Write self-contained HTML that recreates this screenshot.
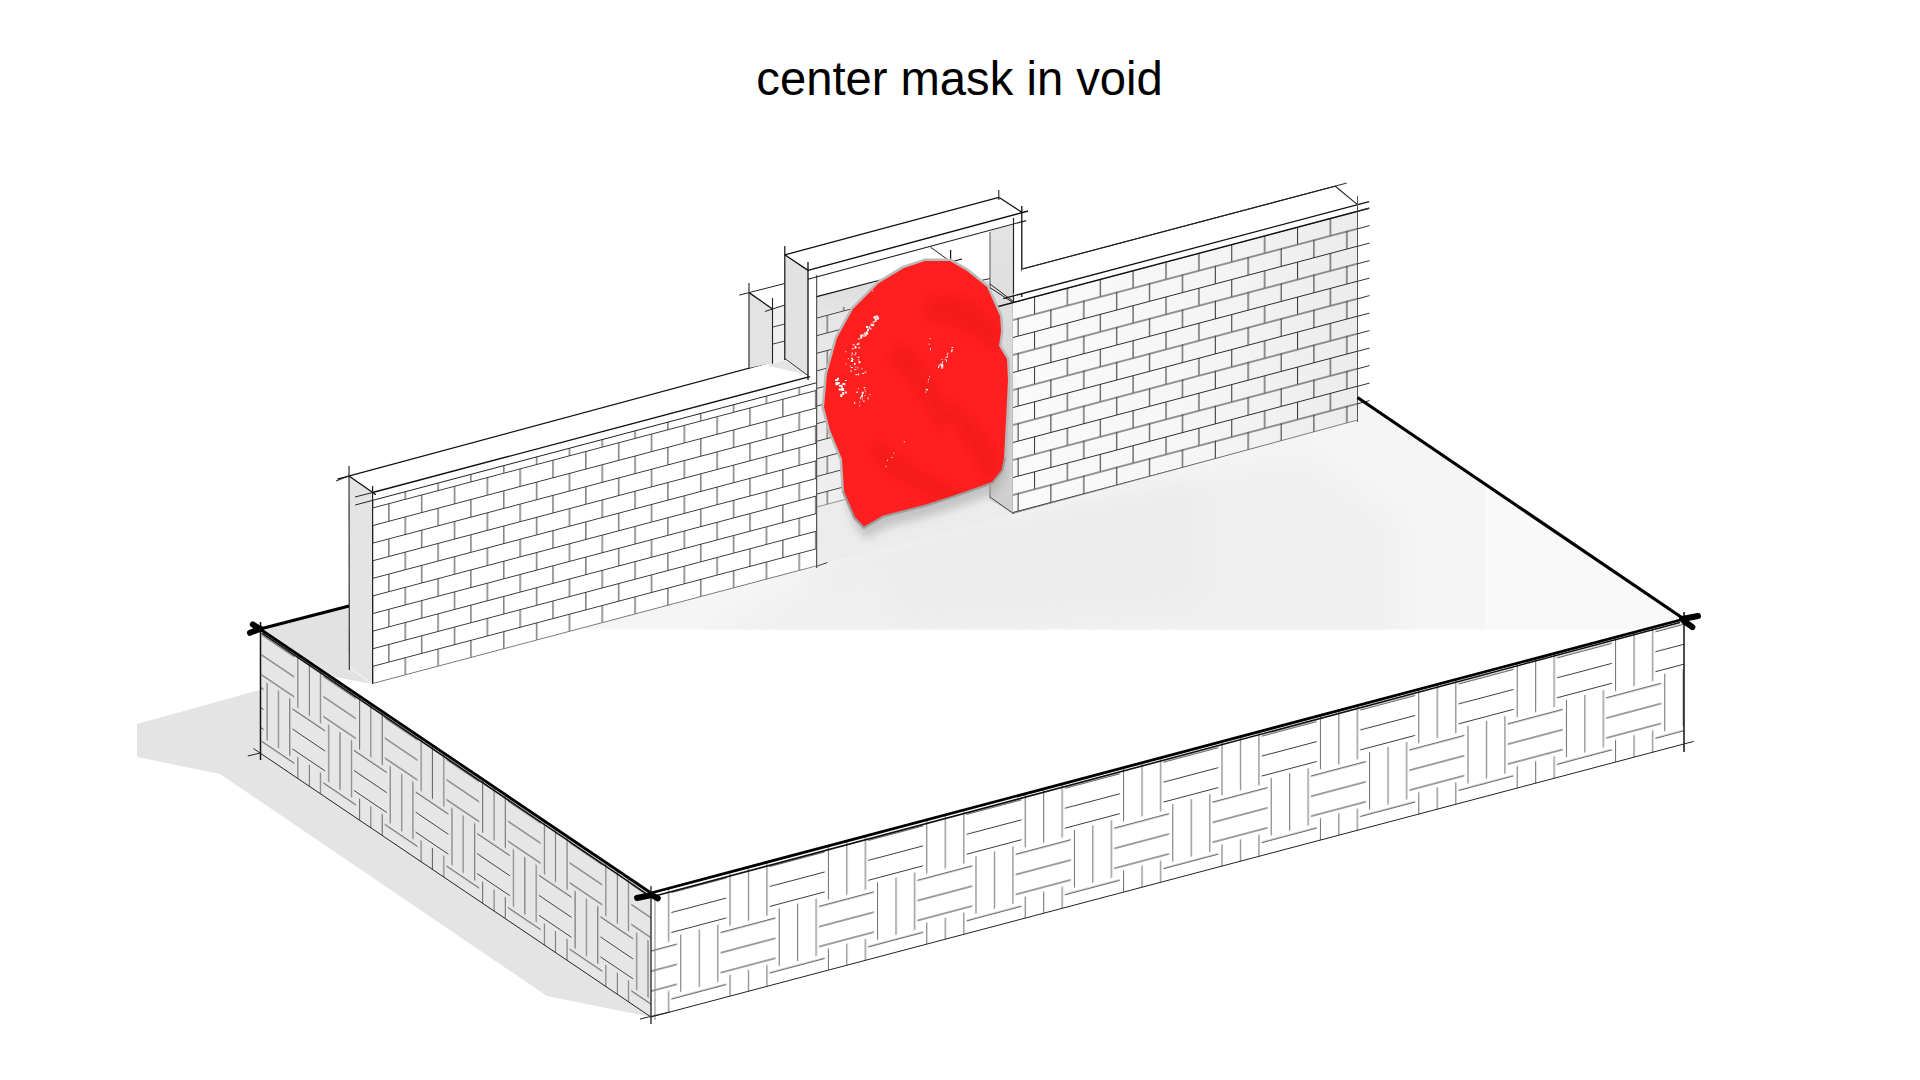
<!DOCTYPE html>
<html><head><meta charset="utf-8"><style>
html,body{margin:0;padding:0;background:#fff;width:1920px;height:1080px;overflow:hidden}
svg{position:absolute;left:0;top:0;display:block}
</style></head><body>
<svg width="1920" height="1080" viewBox="0 0 1920 1080">
<defs><filter id="fb" x="-30%" y="-30%" width="160%" height="160%"><feGaussianBlur stdDeviation="14"/></filter><clipPath id="cfl"><polygon points="585,629.5 585,626 816.3,565.9 990,497 1013,513.3 1357.5,420 1358,398 1684,619 1644,629.5"/></clipPath><pattern id="wr" patternUnits="userSpaceOnUse" width="98.4" height="106.5" patternTransform="translate(1073.9,830.3) skewY(-14.8422)"><line x1="0.50" y1="0.00" x2="0.50" y2="57.50" stroke="#6c6c6c" stroke-width="1.0"/><line x1="49.70" y1="53.25" x2="49.70" y2="106.50" stroke="#6c6c6c" stroke-width="1.0"/><line x1="49.70" y1="0.00" x2="49.70" y2="4.25" stroke="#6c6c6c" stroke-width="1.0"/><line x1="19.00" y1="0.00" x2="19.00" y2="57.50" stroke="#6c6c6c" stroke-width="1.0"/><line x1="68.20" y1="53.25" x2="68.20" y2="106.50" stroke="#6c6c6c" stroke-width="1.0"/><line x1="68.20" y1="0.00" x2="68.20" y2="4.25" stroke="#6c6c6c" stroke-width="1.0"/><line x1="37.50" y1="0.00" x2="37.50" y2="57.50" stroke="#6c6c6c" stroke-width="1.0"/><line x1="86.70" y1="53.25" x2="86.70" y2="106.50" stroke="#6c6c6c" stroke-width="1.0"/><line x1="86.70" y1="0.00" x2="86.70" y2="4.25" stroke="#6c6c6c" stroke-width="1.0"/><line x1="-9.00" y1="62.00" x2="46.00" y2="62.00" stroke="#3c3c3c" stroke-width="1.0"/><line x1="89.40" y1="62.00" x2="99.40" y2="62.00" stroke="#3c3c3c" stroke-width="1.0"/><line x1="-9.00" y1="82.00" x2="46.00" y2="82.00" stroke="#3c3c3c" stroke-width="1.0"/><line x1="89.40" y1="82.00" x2="99.40" y2="82.00" stroke="#3c3c3c" stroke-width="1.0"/><line x1="-9.00" y1="102.00" x2="46.00" y2="102.00" stroke="#3c3c3c" stroke-width="1.0"/><line x1="89.40" y1="102.00" x2="99.40" y2="102.00" stroke="#3c3c3c" stroke-width="1.0"/><line x1="40.20" y1="8.75" x2="95.20" y2="8.75" stroke="#3c3c3c" stroke-width="1.0"/><line x1="40.20" y1="28.75" x2="95.20" y2="28.75" stroke="#3c3c3c" stroke-width="1.0"/><line x1="40.20" y1="48.75" x2="95.20" y2="48.75" stroke="#3c3c3c" stroke-width="1.0"/></pattern><pattern id="wl" patternUnits="userSpaceOnUse" width="61.6" height="106.5" patternTransform="translate(420.6,733.4) skewY(34.0193)"><line x1="0.50" y1="0.00" x2="0.50" y2="57.50" stroke="#6a6a6a" stroke-width="1.0"/><line x1="31.30" y1="53.25" x2="31.30" y2="106.50" stroke="#6a6a6a" stroke-width="1.0"/><line x1="31.30" y1="0.00" x2="31.30" y2="4.25" stroke="#6a6a6a" stroke-width="1.0"/><line x1="11.85" y1="0.00" x2="11.85" y2="57.50" stroke="#6a6a6a" stroke-width="1.0"/><line x1="42.65" y1="53.25" x2="42.65" y2="106.50" stroke="#6a6a6a" stroke-width="1.0"/><line x1="42.65" y1="0.00" x2="42.65" y2="4.25" stroke="#6a6a6a" stroke-width="1.0"/><line x1="23.20" y1="0.00" x2="23.20" y2="57.50" stroke="#6a6a6a" stroke-width="1.0"/><line x1="54.00" y1="53.25" x2="54.00" y2="106.50" stroke="#6a6a6a" stroke-width="1.0"/><line x1="54.00" y1="0.00" x2="54.00" y2="4.25" stroke="#6a6a6a" stroke-width="1.0"/><line x1="-5.00" y1="62.00" x2="27.70" y2="62.00" stroke="#444" stroke-width="1.0"/><line x1="56.60" y1="62.00" x2="62.60" y2="62.00" stroke="#444" stroke-width="1.0"/><line x1="-5.00" y1="82.00" x2="27.70" y2="82.00" stroke="#444" stroke-width="1.0"/><line x1="56.60" y1="82.00" x2="62.60" y2="82.00" stroke="#444" stroke-width="1.0"/><line x1="-5.00" y1="102.00" x2="27.70" y2="102.00" stroke="#444" stroke-width="1.0"/><line x1="56.60" y1="102.00" x2="62.60" y2="102.00" stroke="#444" stroke-width="1.0"/><line x1="25.80" y1="8.75" x2="58.50" y2="8.75" stroke="#444" stroke-width="1.0"/><line x1="25.80" y1="28.75" x2="58.50" y2="28.75" stroke="#444" stroke-width="1.0"/><line x1="25.80" y1="48.75" x2="58.50" y2="48.75" stroke="#444" stroke-width="1.0"/></pattern><pattern id="bk" patternUnits="userSpaceOnUse" width="65.66" height="35.2" patternTransform="translate(372.6,507.5) skewY(-14.8422)"><line x1="0" y1="0.5" x2="65.66" y2="0.5" stroke="#3a3a3a" stroke-width="1"/><line x1="0" y1="18.1" x2="65.66" y2="18.1" stroke="#3a3a3a" stroke-width="1"/><line x1="16.30" y1="0" x2="16.30" y2="17.6" stroke="#3a3a3a" stroke-width="1"/><line x1="32.72" y1="17.6" x2="32.72" y2="35.2" stroke="#3a3a3a" stroke-width="1"/><line x1="49.13" y1="0" x2="49.13" y2="17.6" stroke="#3a3a3a" stroke-width="1"/><line x1="-0.11" y1="17.6" x2="-0.11" y2="35.2" stroke="#3a3a3a" stroke-width="1"/><line x1="65.55" y1="17.6" x2="65.55" y2="35.2" stroke="#3a3a3a" stroke-width="1"/></pattern><linearGradient id="gin" x1="0" y1="0" x2="0" y2="1"><stop offset="0" stop-color="#d4d4d4"/><stop offset="0.25" stop-color="#e6e6e6"/><stop offset="1" stop-color="#f0f0f0"/></linearGradient><pattern id="bk3" patternUnits="userSpaceOnUse" width="65.5" height="35.2" patternTransform="translate(816.7,300) skewY(-14.8422)"><line x1="0" y1="0.5" x2="65.5" y2="0.5" stroke="#444" stroke-width="1"/><line x1="0" y1="18.1" x2="65.5" y2="18.1" stroke="#444" stroke-width="1"/><line x1="27.00" y1="0" x2="27.00" y2="17.6" stroke="#444" stroke-width="1"/><line x1="43.38" y1="17.6" x2="43.38" y2="35.2" stroke="#444" stroke-width="1"/><line x1="59.75" y1="0" x2="59.75" y2="17.6" stroke="#444" stroke-width="1"/><line x1="10.62" y1="17.6" x2="10.62" y2="35.2" stroke="#444" stroke-width="1"/></pattern><linearGradient id="gjb" x1="0" y1="0" x2="0" y2="1"><stop offset="0" stop-color="#e4e4e4"/><stop offset="0.6" stop-color="#d6d6d6"/><stop offset="1" stop-color="#cfcfcf"/></linearGradient><linearGradient id="grw" x1="1013" y1="0" x2="1357" y2="0" gradientUnits="userSpaceOnUse"><stop offset="0" stop-color="#fafafa"/><stop offset="0.5" stop-color="#f6f6f6"/><stop offset="1" stop-color="#ececec"/></linearGradient><pattern id="bk2" patternUnits="userSpaceOnUse" width="65.76" height="35.0" patternTransform="translate(1013,302.0) skewY(-14.8422)"><line x1="0" y1="0.5" x2="65.76" y2="0.5" stroke="#2e2e2e" stroke-width="1"/><line x1="0" y1="18.0" x2="65.76" y2="18.0" stroke="#2e2e2e" stroke-width="1"/><line x1="21.50" y1="0" x2="21.50" y2="17.5" stroke="#2e2e2e" stroke-width="1"/><line x1="37.94" y1="17.5" x2="37.94" y2="35.0" stroke="#2e2e2e" stroke-width="1"/><line x1="54.38" y1="0" x2="54.38" y2="17.5" stroke="#2e2e2e" stroke-width="1"/><line x1="5.06" y1="17.5" x2="5.06" y2="35.0" stroke="#2e2e2e" stroke-width="1"/></pattern><filter id="bl" x="-20%" y="-20%" width="140%" height="140%"><feGaussianBlur stdDeviation="5"/></filter><clipPath id="cbl"><polygon points="904.0,268.0 925.0,261.0 950.0,261.0 967.0,271.0 987.0,287.0 1000.0,316.0 1001.0,331.0 999.0,346.0 1007.0,359.0 1008.0,380.0 1006.0,421.0 1004.0,458.0 1001.5,470.0 992.0,482.0 961.0,493.0 927.5,504.0 883.0,515.5 864.0,526.5 855.0,517.0 844.0,491.0 842.0,459.0 830.0,430.0 824.0,407.0 827.0,374.0 837.0,338.0 853.0,309.0 879.0,283.0"/></clipPath><filter id="bl2" x="-50%" y="-50%" width="200%" height="200%"><feGaussianBlur stdDeviation="4"/></filter></defs>
<rect width="1920" height="1080" fill="#fff"/>
<polygon points="137.0,724.0 260.0,690.0 260.0,753.0 651.0,1017.0 547.0,996.0 220.0,774.0 137.0,757.0" fill="#e4e4e4" />
<polygon points="260.0,629.0 651.0,893.0 1684.0,619.0 1357.5,397.5 349.0,606.0" fill="#ffffff" />
<g clip-path="url(#cfl)"><rect x="560" y="380" width="1140" height="260" fill="#f9f9f9"/><rect x="560" y="380" width="925" height="260" fill="#f5f5f5"/><polygon points="700,640 840,560 1000,520 1300,450 1400,520 1400,640" fill="#f0f0f0" filter="url(#fb)"/><polygon points="880,560 1000,520 1200,480 1200,600 900,620" fill="#e8e8e8" filter="url(#fb)" opacity="0.5"/></g>
<polygon points="260.0,629.0 651.0,893.0 651.0,1017.0 260.0,753.0" fill="#e6e6e6" />
<polygon points="651.0,893.0 1684.0,619.0 1684.0,744.0 651.0,1017.0" fill="#ffffff" />
<polygon points="651.0,893.0 1684.0,619.0 1684.0,744.0 651.0,1017.0" fill="url(#wr)" />
<polygon points="260.0,629.0 651.0,893.0 651.0,1017.0 260.0,753.0" fill="url(#wl)" />
<line x1="260.5" y1="622.0" x2="260.5" y2="760.0" stroke="#111" stroke-width="1.5" />
<line x1="651.0" y1="886.0" x2="651.0" y2="1024.0" stroke="#222" stroke-width="1.3" />
<line x1="655.0" y1="895.0" x2="655.0" y2="1020.0" stroke="#888" stroke-width="1" />
<line x1="1684.0" y1="612.0" x2="1684.0" y2="752.0" stroke="#111" stroke-width="1.5" />
<line x1="253.4" y1="748.5" x2="651.0" y2="1017.0" stroke="#222" stroke-width="1" />
<line x1="247.8" y1="756.0" x2="259.8" y2="753.1" stroke="#222" stroke-width="1" />
<line x1="651.0" y1="1017.0" x2="1693.7" y2="741.4" stroke="#222" stroke-width="1" />
<line x1="640.0" y1="1019.0" x2="670.0" y2="1012.0" stroke="#222" stroke-width="1" />
<polygon points="260.0,629.0 349.0,606.0 349.0,668.0 372.0,684.0 335.0,677.0" fill="#e2e2e2" />
<polygon points="349.0,476.0 372.6,492.5 372.6,683.5 349.3,667.5" fill="#e4e4e4" />
<polygon points="349.0,476.0 784.8,358.5 808.0,375.6 372.6,492.5" fill="#ffffff" />
<polygon points="372.6,492.5 816.3,374.9 816.3,565.9 372.6,683.5" fill="#ffffff" />
<polygon points="372.6,500.4 816.3,382.8 816.3,565.9 372.6,683.5" fill="url(#bk)"/>
<line x1="372.6" y1="492.5" x2="824.0" y2="372.9" stroke="#111" stroke-width="1.4" />
<line x1="808.0" y1="375.6" x2="826.0" y2="370.8" stroke="#111" stroke-width="1.2" />
<line x1="337.4" y1="479.1" x2="784.8" y2="358.5" stroke="#111" stroke-width="1.2" />
<line x1="355.2" y1="505.0" x2="824.0" y2="380.8" stroke="#222" stroke-width="1" />
<line x1="349.0" y1="476.0" x2="375.9" y2="494.8" stroke="#111" stroke-width="1.3" />
<line x1="349.0" y1="466.0" x2="349.3" y2="670.0" stroke="#222" stroke-width="1.1" />
<line x1="372.6" y1="486.0" x2="372.6" y2="684.0" stroke="#222" stroke-width="1.2" />
<line x1="372.6" y1="683.5" x2="816.3" y2="565.9" stroke="#666" stroke-width="0.8" />
<line x1="336.0" y1="481.0" x2="349.0" y2="476.0" stroke="#222" stroke-width="1" />
<line x1="355.0" y1="497.0" x2="372.6" y2="492.5" stroke="#222" stroke-width="1" />
<polygon points="816.7,507.0 990.0,461.0 990.0,499.6 1013.0,513.9 816.3,566.0" fill="#ececec" />
<polygon points="816,566 1013,513.9 1013,540 816,590" fill="#ececec" filter="url(#fb)" opacity="0.9"/>
<polygon points="816.7,296.7 990.0,250.9 990.0,461.0 816.7,507.0" fill="url(#gin)" />
<polygon points="816.7,314.0 990.0,268.0 990.0,461.0 816.7,507.0" fill="url(#bk3)"/>
<line x1="816.7" y1="507.0" x2="990.0" y2="461.0" stroke="#777" stroke-width="0.8" />
<polygon points="816.7,279.0 1013.5,226.0 990.0,281.0 978.0,281.1 900.0,276.0 816.7,296.7" fill="#ffffff" />
<polygon points="749.0,292.6 772.5,309.0 772.5,363.0 749.0,368.0" fill="#e3e3e3" />
<polygon points="772.5,309.0 784.8,305.0 784.8,360.0 772.5,363.0" fill="#f0f0f0" />
<polygon points="749.0,292.6 784.0,283.7 784.8,305.0 772.5,309.0" fill="#ffffff" />
<line x1="749.0" y1="283.0" x2="749.0" y2="369.0" stroke="#222" stroke-width="1.1" />
<line x1="772.5" y1="298.0" x2="772.5" y2="364.0" stroke="#222" stroke-width="1.1" />
<line x1="749.0" y1="292.6" x2="772.5" y2="309.0" stroke="#111" stroke-width="1.3" />
<line x1="739.3" y1="295.1" x2="784.0" y2="283.7" stroke="#222" stroke-width="1" />
<line x1="764.9" y1="311.5" x2="784.8" y2="305.0" stroke="#222" stroke-width="1" />
<line x1="773.0" y1="327.0" x2="785.0" y2="324.0" stroke="#444" stroke-width="1" />
<line x1="773.0" y1="344.0" x2="785.0" y2="341.0" stroke="#444" stroke-width="1" />
<polygon points="767.2,365.6 784.6,360.0 807.0,374.8 795.0,372.0" fill="#e4e4e4" />
<polygon points="784.8,254.8 808.0,270.4 808.0,375.6 784.8,358.5" fill="#e2e2e2" />
<polygon points="808.0,270.4 816.7,268.0 816.7,380.0 808.0,375.6" fill="#ffffff" />
<polygon points="784.8,254.8 998.8,197.3 1022.3,212.6 808.0,270.4" fill="#ffffff" />
<polygon points="808.0,270.4 1022.3,212.6 1022.3,240.0 816.7,296.3" fill="#ffffff" />
<polygon points="990.0,231.0 1013.5,224.8 1013.5,513.9 989.5,499.6" fill="url(#gjb)" />
<polygon points="1013.5,224.8 1021.8,213.0 1021.8,296.0 1013.5,302.6" fill="#ffffff" />
<line x1="784.8" y1="254.8" x2="998.8" y2="197.3" stroke="#111" stroke-width="1.2" />
<line x1="808.0" y1="270.4" x2="1028.1" y2="211.0" stroke="#111" stroke-width="1.4" />
<line x1="808.0" y1="279.2" x2="1026.2" y2="220.6" stroke="#222" stroke-width="1.1" />
<line x1="784.8" y1="254.8" x2="808.0" y2="270.4" stroke="#111" stroke-width="1.3" />
<line x1="998.8" y1="197.3" x2="1022.3" y2="212.6" stroke="#111" stroke-width="1.2" />
<line x1="784.8" y1="246.0" x2="784.8" y2="360.0" stroke="#111" stroke-width="1.2" />
<line x1="808.0" y1="262.0" x2="808.0" y2="380.0" stroke="#111" stroke-width="1.3" />
<line x1="816.7" y1="275.0" x2="816.7" y2="568.0" stroke="#333" stroke-width="1" />
<line x1="816.5" y1="566.4" x2="827.5" y2="562.5" stroke="#444" stroke-width="1" />
<line x1="816.7" y1="296.7" x2="880.6" y2="280.0" stroke="#111" stroke-width="1.2" />
<line x1="1013.5" y1="218.0" x2="1013.5" y2="514.0" stroke="#222" stroke-width="1.2" />
<line x1="1021.8" y1="206.0" x2="1021.8" y2="297.0" stroke="#111" stroke-width="1.3" />
<line x1="990.0" y1="232.0" x2="990.0" y2="498.0" stroke="#555" stroke-width="1" />
<line x1="978.3" y1="281.1" x2="989.9" y2="278.6" stroke="#222" stroke-width="1" />
<line x1="989.9" y1="287.6" x2="1013.5" y2="302.9" stroke="#222" stroke-width="1" />
<line x1="930.6" y1="247.2" x2="950.6" y2="261.7" stroke="#222" stroke-width="1" />
<line x1="950.6" y1="250.0" x2="950.6" y2="262.0" stroke="#111" stroke-width="1.2" />
<line x1="950.6" y1="262.0" x2="962.0" y2="259.0" stroke="#111" stroke-width="1.2" />
<line x1="990.0" y1="497.0" x2="1013.0" y2="513.3" stroke="#444" stroke-width="1" />
<line x1="990.0" y1="284.0" x2="1022.0" y2="308.0" stroke="#222" stroke-width="1" />
<line x1="784.8" y1="358.5" x2="808.0" y2="375.6" stroke="#333" stroke-width="1" />
<line x1="998.8" y1="190.0" x2="998.8" y2="200.0" stroke="#111" stroke-width="1" />
<polygon points="1013.0,302.6 1357.5,211.1 1357.5,420.0 1013.0,513.3" fill="#ffffff" />
<polygon points="1013.0,302.6 1357.5,211.1 1357.5,420.0 1013.0,513.3" fill="url(#grw)"/>
<polygon points="1013.0,302.6 1357.5,211.3 1357.5,420.0 1013.0,513.3" fill="url(#bk2)"/>
<polygon points="1022.3,268.5 1335.0,186.0 1357.5,204.7 1013.0,296.0" fill="#ffffff" />
<line x1="997.5" y1="306.7" x2="1369.1" y2="208.2" stroke="#111" stroke-width="1.4" />
<line x1="1022.3" y1="269.0" x2="1335.0" y2="186.2" stroke="#222" stroke-width="1.1" />
<line x1="1003.3" y1="298.6" x2="1369.1" y2="201.6" stroke="#111" stroke-width="1.3" />
<line x1="1335.0" y1="186.0" x2="1357.5" y2="204.7" stroke="#222" stroke-width="1.1" />
<line x1="1022.3" y1="269.0" x2="1346.6" y2="183.1" stroke="#222" stroke-width="1" />
<line x1="1357.5" y1="196.0" x2="1357.5" y2="422.0" stroke="#555" stroke-width="1" />
<line x1="1013.0" y1="513.3" x2="1357.5" y2="420.0" stroke="#666" stroke-width="0.8" />
<line x1="1357.5" y1="211.3" x2="1369.5" y2="208.1" stroke="#333" stroke-width="1" />
<line x1="1357.5" y1="228.8" x2="1369.5" y2="225.6" stroke="#333" stroke-width="1" />
<line x1="1357.5" y1="246.3" x2="1369.5" y2="243.1" stroke="#333" stroke-width="1" />
<line x1="1357.5" y1="263.8" x2="1369.5" y2="260.6" stroke="#333" stroke-width="1" />
<line x1="1357.5" y1="281.3" x2="1369.5" y2="278.1" stroke="#333" stroke-width="1" />
<line x1="1357.5" y1="298.8" x2="1369.5" y2="295.6" stroke="#333" stroke-width="1" />
<line x1="1357.5" y1="316.3" x2="1369.5" y2="313.1" stroke="#333" stroke-width="1" />
<line x1="1357.5" y1="333.8" x2="1369.5" y2="330.6" stroke="#333" stroke-width="1" />
<line x1="1357.5" y1="351.3" x2="1369.5" y2="348.1" stroke="#333" stroke-width="1" />
<line x1="1357.5" y1="368.8" x2="1369.5" y2="365.6" stroke="#333" stroke-width="1" />
<line x1="1357.5" y1="386.3" x2="1369.5" y2="383.1" stroke="#333" stroke-width="1" />
<line x1="1357.5" y1="403.8" x2="1369.5" y2="400.6" stroke="#333" stroke-width="1" />
<polygon points="1009.0,371.0 1010.0,392.0 1008.0,433.0 1006.0,470.0 1003.5,482.0 994.0,494.0 963.0,505.0 929.5,516.0 885.0,527.5 866.0,538.5 857.0,529.0 846.0,503.0" fill="#a8a8a8" opacity="0.6" filter="url(#bl)"/>
<polygon points="904.0,268.0 925.0,261.0 950.0,261.0 967.0,271.0 987.0,287.0 1000.0,316.0 1001.0,331.0 999.0,346.0 1007.0,359.0 1008.0,380.0 1006.0,421.0 1004.0,458.0 1001.5,470.0 992.0,482.0 961.0,493.0 927.5,504.0 883.0,515.5 864.0,526.5 855.0,517.0 844.0,491.0 842.0,459.0 830.0,430.0 824.0,407.0 827.0,374.0 837.0,338.0 853.0,309.0 879.0,283.0" fill="#bdbdbd" stroke="#b9b9b9" stroke-width="5" stroke-linejoin="round"/>
<polyline points="1004.0,458.0 1001.5,470.0 992.0,482.0 961.0,493.0 927.5,504.0 883.0,515.5 864.0,526.5 855.0,517.0 844.0,491.0" fill="none" stroke="#9c9c9c" stroke-width="4" stroke-linejoin="round"/>
<polygon points="904.0,268.0 925.0,261.0 950.0,261.0 967.0,271.0 987.0,287.0 1000.0,316.0 1001.0,331.0 999.0,346.0 1007.0,359.0 1008.0,380.0 1006.0,421.0 1004.0,458.0 1001.5,470.0 992.0,482.0 961.0,493.0 927.5,504.0 883.0,515.5 864.0,526.5 855.0,517.0 844.0,491.0 842.0,459.0 830.0,430.0 824.0,407.0 827.0,374.0 837.0,338.0 853.0,309.0 879.0,283.0" fill="#ff1f1f"/>
<g clip-path="url(#cbl)" filter="url(#bl2)" fill="#e41414" opacity="0.35"><path d="M925,300 C950,290 985,300 1000,330 L995,350 C975,335 950,320 925,318 Z"/><path d="M895,345 C915,350 935,380 950,420 L940,430 C925,400 905,375 890,360 Z"/><path d="M950,400 C970,410 990,440 1000,470 L985,480 C975,455 960,430 945,415 Z"/><path d="M880,440 C900,460 930,480 960,490 L950,500 C920,495 890,475 870,455 Z"/></g>
<g fill="#ffffff" clip-path="url(#cbl)"><rect x="870.3" y="327.7" width="1" height="2"/><rect x="873.2" y="317.0" width="1" height="1"/><rect x="874.9" y="318.4" width="2" height="2"/><rect x="873.7" y="315.9" width="2" height="2"/><rect x="863.7" y="336.0" width="1" height="1"/><rect x="877.4" y="315.9" width="1" height="2"/><rect x="874.0" y="321.2" width="1" height="1"/><rect x="861.6" y="334.5" width="2" height="2"/><rect x="877.1" y="317.5" width="2" height="2"/><rect x="865.8" y="331.4" width="2" height="2"/><rect x="870.4" y="323.7" width="1" height="1"/><rect x="860.1" y="334.7" width="2" height="2"/><rect x="870.8" y="325.0" width="2" height="1"/><rect x="858.4" y="342.6" width="1" height="2"/><rect x="873.9" y="317.0" width="2" height="2"/><rect x="857.9" y="338.5" width="2" height="1"/><rect x="856.6" y="343.9" width="2" height="1"/><rect x="875.8" y="315.5" width="2" height="2"/><rect x="869.0" y="326.1" width="1" height="2"/><rect x="867.3" y="326.5" width="1" height="2"/><rect x="874.5" y="320.7" width="2" height="1"/><rect x="872.7" y="321.4" width="1" height="2"/><rect x="854.5" y="346.5" width="2" height="2"/><rect x="854.8" y="345.8" width="1" height="1"/><rect x="871.9" y="324.5" width="2" height="1"/><rect x="872.2" y="324.2" width="2" height="2"/><rect x="864.5" y="334.3" width="2" height="2"/><rect x="860.2" y="336.6" width="2" height="2"/><rect x="867.0" y="329.1" width="2" height="2"/><rect x="877.1" y="317.5" width="1" height="1"/><rect x="868.8" y="326.9" width="1" height="2"/><rect x="875.1" y="318.8" width="1" height="2"/><rect x="865.9" y="325.9" width="2" height="2"/><rect x="866.2" y="332.5" width="2" height="2"/><rect x="865.4" y="332.2" width="2" height="2"/><rect x="871.2" y="323.6" width="1" height="1"/><rect x="851.7" y="348.2" width="2" height="1"/><rect x="857.0" y="343.2" width="1" height="2"/><rect x="852.6" y="344.3" width="2" height="1"/><rect x="863.8" y="332.6" width="1" height="2"/><rect x="869.5" y="394.1" width="1" height="1"/><rect x="859.8" y="397.2" width="1" height="2"/><rect x="854.3" y="354.2" width="1" height="1"/><rect x="863.6" y="387.2" width="2" height="1"/><rect x="859.1" y="405.3" width="1" height="1"/><rect x="854.3" y="369.1" width="2" height="1"/><rect x="850.6" y="370.1" width="1" height="2"/><rect x="845.4" y="363.4" width="1" height="1"/><rect x="854.2" y="402.0" width="1" height="2"/><rect x="844.9" y="380.0" width="2" height="1"/><rect x="854.0" y="363.1" width="1" height="2"/><rect x="858.2" y="347.3" width="2" height="1"/><rect x="850.9" y="360.0" width="2" height="2"/><rect x="851.2" y="354.7" width="1" height="1"/><rect x="851.7" y="359.2" width="2" height="1"/><rect x="850.8" y="367.0" width="2" height="1"/><rect x="856.0" y="391.7" width="2" height="1"/><rect x="861.8" y="394.0" width="1" height="2"/><rect x="862.2" y="372.9" width="2" height="1"/><rect x="860.9" y="395.4" width="2" height="2"/><rect x="858.5" y="361.2" width="2" height="2"/><rect x="857.5" y="367.4" width="1" height="1"/><rect x="854.5" y="362.7" width="1" height="2"/><rect x="851.8" y="352.4" width="1" height="2"/><rect x="859.1" y="401.5" width="1" height="1"/><rect x="858.2" y="373.4" width="1" height="2"/><rect x="864.4" y="371.7" width="2" height="1"/><rect x="861.7" y="398.5" width="1" height="1"/><rect x="851.0" y="357.8" width="2" height="1"/><rect x="861.7" y="391.8" width="2" height="2"/><rect x="864.4" y="395.1" width="1" height="1"/><rect x="867.6" y="397.4" width="1" height="2"/><rect x="862.8" y="400.6" width="2" height="1"/><rect x="855.5" y="374.1" width="2" height="1"/><rect x="845.2" y="351.2" width="1" height="1"/><rect x="849.7" y="365.4" width="1" height="1"/><rect x="865.0" y="391.2" width="1" height="1"/><rect x="861.6" y="368.2" width="1" height="1"/><rect x="864.2" y="389.4" width="1" height="1"/><rect x="857.5" y="356.8" width="2" height="1"/><rect x="858.2" y="359.4" width="1" height="1"/><rect x="855.4" y="366.5" width="1" height="1"/><rect x="858.0" y="388.1" width="1" height="1"/><rect x="855.3" y="352.4" width="1" height="2"/><rect x="847.9" y="358.2" width="1" height="1"/><rect x="839.0" y="384.8" width="3" height="2"/><rect x="836.8" y="382.1" width="3" height="2"/><rect x="842.2" y="392.0" width="2" height="3"/><rect x="835.4" y="382.2" width="3" height="3"/><rect x="842.3" y="383.1" width="3" height="2"/><rect x="840.3" y="394.1" width="2" height="3"/><rect x="844.8" y="391.5" width="2" height="2"/><rect x="840.9" y="385.7" width="2" height="2"/><rect x="838.7" y="388.5" width="3" height="2"/><rect x="841.1" y="388.0" width="3" height="3"/><rect x="835.1" y="379.1" width="3" height="2"/><rect x="837.0" y="377.8" width="2" height="2"/><rect x="947.0" y="355.8" width="1" height="1"/><rect x="944.7" y="359.1" width="1" height="1"/><rect x="945.6" y="356.8" width="2" height="1"/><rect x="951.7" y="349.3" width="1" height="2"/><rect x="940.1" y="363.7" width="2" height="1"/><rect x="951.5" y="347.1" width="2" height="1"/><rect x="938.3" y="366.7" width="1" height="1"/><rect x="951.2" y="350.2" width="1" height="2"/><rect x="938.0" y="365.9" width="1" height="2"/><rect x="946.9" y="353.9" width="1" height="1"/><rect x="938.8" y="364.7" width="2" height="1"/><rect x="941.2" y="365.6" width="2" height="2"/><rect x="941.1" y="367.6" width="2" height="1"/><rect x="942.1" y="361.3" width="1" height="2"/><rect x="947.4" y="352.7" width="1" height="1"/><rect x="941.6" y="358.9" width="1" height="1"/><rect x="941.2" y="364.0" width="2" height="2"/><rect x="946.0" y="359.7" width="1" height="2"/><rect x="925.2" y="391.6" width="1" height="1"/><rect x="926.6" y="388.9" width="1" height="1"/><rect x="928.0" y="379.1" width="1" height="1"/><rect x="925.7" y="388.9" width="1" height="1"/><rect x="926.1" y="389.4" width="1" height="1"/><rect x="929.1" y="376.4" width="1" height="1"/><rect x="927.7" y="381.5" width="1" height="1"/><rect x="927.1" y="389.5" width="1" height="1"/><rect x="930.0" y="349.4" width="1" height="1"/><rect x="928.6" y="343.6" width="1" height="1"/><rect x="930.0" y="348.1" width="1" height="1"/><rect x="929.6" y="338.0" width="1" height="1"/><rect x="872.3" y="290.4" width="1" height="1"/><rect x="875.6" y="283.8" width="1" height="1"/><rect x="866.1" y="267.7" width="1" height="1"/><rect x="873.6" y="277.7" width="1" height="1"/><rect x="893.4" y="452.6" width="1" height="1"/><rect x="885.4" y="465.9" width="1" height="1"/><rect x="903.7" y="441.3" width="1" height="1"/><rect x="887.0" y="459.8" width="1" height="1"/><rect x="891.5" y="456.9" width="1" height="1"/></g>
<text x="756.3" y="95" font-family="Liberation Sans" font-size="47.2" fill="#000">center mask in void</text>
<line x1="260.0" y1="629.0" x2="651.0" y2="893.0" stroke="#000" stroke-width="2.8" />
<line x1="651.0" y1="893.0" x2="1684.0" y2="619.0" stroke="#000" stroke-width="2.8" />
<line x1="1684.0" y1="619.0" x2="1357.5" y2="397.5" stroke="#000" stroke-width="3.2" />
<line x1="260.0" y1="629.0" x2="349.0" y2="606.0" stroke="#000" stroke-width="3.2" />
<line x1="262.0" y1="633.2" x2="651.0" y2="896.8" stroke="#111" stroke-width="1.6" />
<line x1="654.0" y1="896.2" x2="1680.0" y2="622.4" stroke="#111" stroke-width="1.6" />
<line x1="250.0" y1="632.8" x2="260.4" y2="628.6" stroke="#000" stroke-width="6" stroke-linecap="round"/>
<line x1="252.8" y1="624.4" x2="260.4" y2="629.3" stroke="#000" stroke-width="6" stroke-linecap="round"/>
<line x1="637.0" y1="898.0" x2="651.7" y2="895.0" stroke="#000" stroke-width="6" stroke-linecap="round"/>
<line x1="651.7" y1="895.0" x2="657.8" y2="898.4" stroke="#000" stroke-width="6" stroke-linecap="round"/>
<line x1="1682.0" y1="619.0" x2="1698.0" y2="616.0" stroke="#000" stroke-width="6" stroke-linecap="round"/>
<line x1="1684.0" y1="621.0" x2="1692.4" y2="627.2" stroke="#000" stroke-width="6" stroke-linecap="round"/>
</svg></body></html>
